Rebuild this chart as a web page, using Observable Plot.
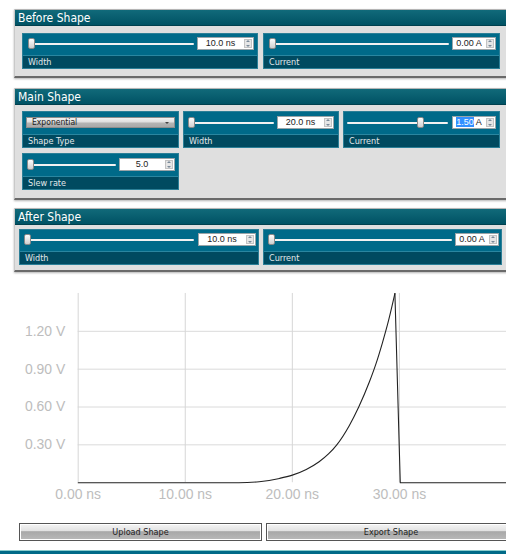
<!DOCTYPE html>
<html><head><meta charset="utf-8">
<script src="https://cdn.jsdelivr.net/npm/d3@7"></script>
<script src="https://cdn.jsdelivr.net/npm/@observablehq/plot@0.6"></script>
<style>
html,body{margin:0;padding:0}
body{width:506px;height:554px;overflow:hidden;background:#fff;position:relative;font-family:"DejaVu Sans Condensed","DejaVu Sans",sans-serif}
.panel{position:absolute;left:14px;width:500px;background:#dfdfdf;border-bottom:2px solid #6a6a6a;border-left:1px solid #c9c9c9;box-sizing:content-box;box-shadow:0 1px 2px rgba(0,0,0,.3)}
.hdr{height:17px;background:linear-gradient(#116a7a,#005264);color:#fff;font-size:12px;line-height:17px;padding-left:3px;border-top:1px solid #b5b5b5;border-bottom:1px solid #00404e;box-sizing:border-box}
.box{position:absolute;background:#006a89;border:1px solid #2b7f97;box-sizing:border-box}
.lab{position:absolute;left:0;right:0;bottom:0;height:13px;background:#004a60;color:#e2e8ea;font-size:9px;line-height:13px;padding-left:5px;border-top:1px solid #2a86a0;box-sizing:border-box}
.track{position:absolute;height:2px;background:#f2f2f2;border-radius:1px}
.thumb{position:absolute;width:7px;height:11px;background:linear-gradient(#fdfdfd,#cfcfcf);border:1px solid #8a8a8a;border-radius:2px;box-sizing:border-box}
.inp{position:absolute;height:13px;background:#fff;border:1px solid #9aa4a8;box-sizing:border-box;font-family:"Liberation Sans",Arial,sans-serif;font-size:9px;line-height:11px;color:#222;text-align:center;padding-right:10px;white-space:nowrap}
.spin{position:absolute;right:1px;top:1px;width:8px;height:9px;background:#e6e6e6;border:1px solid #c3c3c3;box-sizing:border-box}
.spin:before{content:"";position:absolute;left:1px;top:0px;border-left:2px solid transparent;border-right:2px solid transparent;border-bottom:2px solid #7a8a99}
.spin:after{content:"";position:absolute;left:1px;bottom:0px;border-left:2px solid transparent;border-right:2px solid transparent;border-top:2px solid #7a8a99}
.sel{background:#3390ff;color:#fff}
.dd{position:absolute;height:11px;background:linear-gradient(#f2f2f2 0%,#dedede 45%,#b4b4b4 55%,#a9a9a9 100%);border:1px solid #8d8d8d;box-sizing:border-box;font-size:8.5px;line-height:9px;color:#222;padding-left:5px}
.dd:after{content:"";position:absolute;right:5px;top:4px;border-left:2px solid transparent;border-right:2px solid transparent;border-top:2px solid #444}
.btn{position:absolute;top:523px;height:18px;border:1px solid #555;box-shadow:inset 0 0 0 1px #fff;box-sizing:border-box;background:linear-gradient(#f4f4f4 0%,#e2e2e2 42%,#a8a8a8 48%,#b9b9b9 100%);font-size:9px;text-align:center;line-height:16px;color:#222}
#bar{position:absolute;left:0;top:550px;width:506px;height:4px;background:#006a88;border-top:1px solid #8cc}
#chart{position:absolute;left:0;top:285px}
</style></head>
<body>
<!-- Before Shape -->
<div class="panel" style="top:9px;height:67px"><div class="hdr">Before Shape</div></div>
<div class="box" style="left:22px;top:33px;width:236px;height:36px">
  <div class="track" style="left:5px;top:9px;width:166px"></div>
  <div class="thumb" style="left:5px;top:4px"></div>
  <div class="inp" style="left:174px;top:3px;width:57px">10.0 ns<div class="spin"></div></div>
  <div class="lab">Width</div>
</div>
<div class="box" style="left:263px;top:33px;width:237px;height:36px">
  <div class="track" style="left:5px;top:9px;width:180px"></div>
  <div class="thumb" style="left:5px;top:4px"></div>
  <div class="inp" style="left:188px;top:3px;width:44px">0.00 A<div class="spin"></div></div>
  <div class="lab">Current</div>
</div>

<!-- Main Shape -->
<div class="panel" style="top:88px;height:110px"><div class="hdr">Main Shape</div></div>
<div class="box" style="left:22px;top:111px;width:157px;height:37px">
  <div class="dd" style="left:3px;top:5px;width:149px">Exponential</div>
  <div class="lab">Shape Type</div>
</div>
<div class="box" style="left:183px;top:111px;width:156px;height:37px">
  <div class="track" style="left:4px;top:10px;width:86px"></div>
  <div class="thumb" style="left:4px;top:5px"></div>
  <div class="inp" style="left:93px;top:4px;width:57px">20.0 ns<div class="spin"></div></div>
  <div class="lab">Width</div>
</div>
<div class="box" style="left:343px;top:111px;width:157px;height:37px">
  <div class="track" style="left:3px;top:10px;width:101px"></div>
  <div class="thumb" style="left:73px;top:5px"></div>
  <div class="inp" style="left:108px;top:4px;width:44px"><span class="sel">1.50</span> A<div class="spin"></div></div>
  <div class="lab">Current</div>
</div>
<div class="box" style="left:22px;top:153px;width:157px;height:37px">
  <div class="track" style="left:4px;top:10px;width:89px"></div>
  <div class="thumb" style="left:4px;top:5px"></div>
  <div class="inp" style="left:96px;top:4px;width:56px">5.0<div class="spin"></div></div>
  <div class="lab">Slew rate</div>
</div>

<!-- After Shape -->
<div class="panel" style="top:208px;height:62px"><div class="hdr">After Shape</div></div>
<div class="box" style="left:19px;top:229px;width:240px;height:36px">
  <div class="track" style="left:4px;top:9px;width:170px"></div>
  <div class="thumb" style="left:4px;top:4px"></div>
  <div class="inp" style="left:178px;top:3px;width:58px">10.0 ns<div class="spin"></div></div>
  <div class="lab">Width</div>
</div>
<div class="box" style="left:263px;top:229px;width:239px;height:36px">
  <div class="track" style="left:4px;top:9px;width:184px"></div>
  <div class="thumb" style="left:4px;top:4px"></div>
  <div class="inp" style="left:191px;top:3px;width:44px">0.00 A<div class="spin"></div></div>
  <div class="lab">Current</div>
</div>

<div id="chart"></div>

<div class="btn" style="left:19px;width:243px">Upload Shape</div>
<div class="btn" style="left:266px;width:250px">Export Shape</div>
<div id="bar"></div>

<script>
// Rising (exponential) part of the pulse: time in ns, voltage in V
const riseTime = [0, 15.0, 16.9, 18.8, 20.0, 21.3, 22.5, 23.4, 24.15, 25.3, 26.2, 27.2, 27.8, 28.4, 29.0, 29.58];
const riseVolt = [0, 0, 0.008, 0.034, 0.06, 0.105, 0.166, 0.23, 0.30, 0.45, 0.60, 0.80, 0.94, 1.105, 1.29, 1.5];
// Fall and after-shape part
const fallTime = [29.58, 30.08, 40];
const fallVolt = [1.5, 0, 0];
// Axis ticks
const xTicks = [0, 10, 20, 30];
const yTicks = [0.3, 0.6, 0.9, 1.2];

const rise = riseTime.map((t, i) => ({t, v: riseVolt[i]}));
const fall = fallTime.map((t, i) => ({t, v: fallVolt[i]}));

const chart = Plot.plot({
  width: 508,
  height: 223,
  marginLeft: 78,
  marginRight: 0,
  marginTop: 8,
  marginBottom: 25,
  style: {fontFamily: "'Liberation Sans', Arial, sans-serif", fontSize: "14px", color: "#bdbdbd", background: "transparent", overflow: "visible"},
  x: {domain: [0, 40], label: null},
  y: {domain: [0, 1.5], label: null},
  marks: [
    Plot.ruleY(yTicks, {stroke: "#dadada", strokeOpacity: 1}),
    Plot.ruleX(xTicks, {y1: 0, y2: 1.5, stroke: "#d6d6d6", strokeOpacity: 1}),
    Plot.axisX(xTicks, {tickSize: 0, tickPadding: 6, label: null, tickFormat: d => d.toFixed(2) + " ns", fill: "#bdbdbd", fontSize: 14}),
    Plot.axisY(yTicks, {tickSize: 0, tickPadding: 13, label: null, tickFormat: d => d.toFixed(2) + " V", fill: "#bdbdbd", fontSize: 14}),
    Plot.line(rise, {x: "t", y: "v", curve: "monotone-x", stroke: "#222", strokeWidth: 1.1}),
    Plot.line(fall, {x: "t", y: "v", stroke: "#222", strokeWidth: 1.1})
  ]
});
document.getElementById("chart").appendChild(chart);
</script>
</body></html>
